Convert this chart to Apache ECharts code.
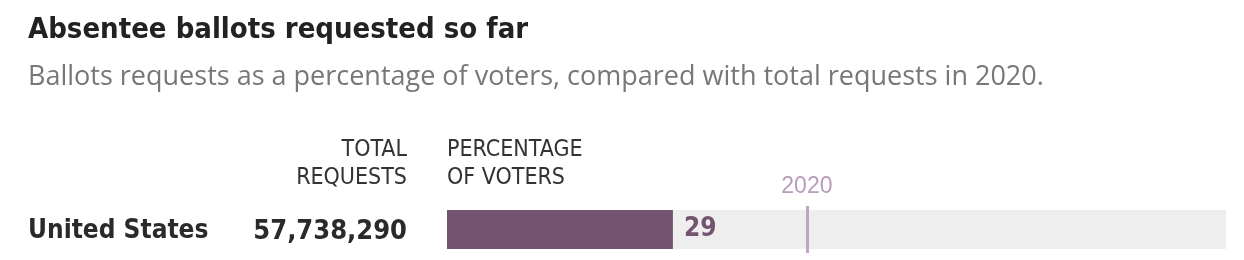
<!DOCTYPE html>
<html><head><meta charset="utf-8">
<script src="https://cdn.jsdelivr.net/npm/echarts@6/dist/echarts.min.js"></script>
<style>html,body{margin:0;padding:0;background:#fff}#c{width:1244px;height:260px}</style>
</head><body><div id="c"></div>
<script>
const titleText = 'Absentee ballots requested so far';
const subtitleText = 'Ballots requests as a percentage of voters, compared with total requests in 2020.';
const categories = ['United States'];
const totalRequests = ['57,738,290'];
const percentValues = [29];
const ref2020 = [46.2];
const headerTotal = ['TOTAL', 'REQUESTS'];
const headerPct = ['PERCENTAGE', 'OF VOTERS'];

const narrow = '"DejaVu Sans Condensed", sans-serif';
const chart = echarts.init(document.getElementById('c'));
const headerGraphics = [];
headerTotal.forEach((t, i) => headerGraphics.push({type: 'text', x: 407, y: 139 + i * 28, style: {text: t, font: '23px ' + narrow, fill: '#333', align: 'right'}}));
headerPct.forEach((t, i) => headerGraphics.push({type: 'text', x: 447, y: 139 + i * 28, style: {text: t, font: '23px ' + narrow, fill: '#333', align: 'left'}}));
chart.setOption({
  animation: false,
  grid: {left: 447, right: 18, top: 206, height: 47},
  xAxis: {type: 'value', min: 0, max: 100, show: false},
  yAxis: {type: 'category', data: categories, axisLine: {show: false}, axisTick: {show: false},
    axisLabel: {
      align: 'left', margin: 419,
      formatter: (v, i) => '{name|' + v + '}{num|' + totalRequests[i] + '}',
      rich: {
        name: {width: 230, align: 'left', fontFamily: narrow, fontWeight: 'bold', fontSize: 26, color: '#2a2a2a', padding: [4, 0, 0, 0]},
        num: {width: 149, align: 'right', fontFamily: narrow, fontWeight: 'bold', fontSize: 27, color: '#2a2a2a', padding: [4, 0, 0, 0]}
      }
    }},
  graphic: [
    {type: 'text', left: 28, top: 16, style: {text: titleText, font: 'bold 29px ' + narrow, fill: '#222'}},
    {type: 'text', left: 28, top: 64, style: {text: subtitleText, font: '27px "Open Sans", sans-serif', fill: '#777'}}
  ].concat(headerGraphics),
  series: [{
    type: 'bar', data: percentValues, barWidth: 39,
    itemStyle: {color: '#73536f'},
    showBackground: true, backgroundStyle: {color: '#eeeeee'},
    label: {show: true, position: 'right', distance: 11, color: '#73536f', fontFamily: narrow, fontWeight: 'bold', fontSize: 26},
    markLine: {
      silent: true, symbol: 'none',
      lineStyle: {color: '#c0a5c0', width: 3, type: 'solid'},
      label: {show: true, position: 'end', formatter: '2020', color: '#b89cb8', fontSize: 23, fontFamily: '"Liberation Sans", sans-serif', distance: 8},
      data: [{xAxis: ref2020[0]}]
    }
  }]
});
</script></body></html>
